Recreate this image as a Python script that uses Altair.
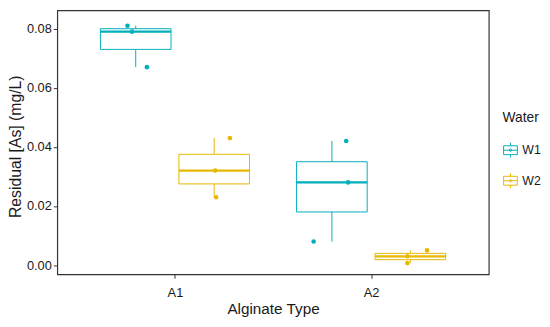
import json
import altair as alt
import pandas as pd

# ---- data ----
categories = ["A1", "A2"]
waters = ["W1", "W2"]
colors = ["#00AFBB", "#E7B800"]

a1_w1 = [0.081, 0.079, 0.067]
a1_w2 = [0.043, 0.032, 0.023]
a2_w1 = [0.042, 0.028, 0.008]
a2_w2 = [0.005, 0.003, 0.0007]

# horizontal jitter of the points (in category units)
jit_a1_w1 = [-0.042, -0.019, 0.057]
jit_a1_w2 = [0.080, 0.005, 0.010]
jit_a2_w1 = [0.073, 0.083, -0.093]
jit_a2_w2 = [0.085, -0.015, -0.015]

groups = [
    ("A1", "W1", a1_w1, jit_a1_w1),
    ("A1", "W2", a1_w2, jit_a1_w2),
    ("A2", "W1", a2_w1, jit_a2_w1),
    ("A2", "W2", a2_w2, jit_a2_w2),
]
rows = []
for alg, w, vals, jits in groups:
    for v, j in zip(vals, jits):
        rows.append({"Alginate": alg, "Water": w, "value": v, "jitter": j})
df = pd.DataFrame(rows)

FONT = "Liberation Sans"
cat_js = json.dumps(categories)
DODGE = 0.2
HALF = 0.18

xscale = alt.Scale(domain=[0.4, 2.6], nice=False, zero=False)
yscale = alt.Scale(domain=[-0.0031, 0.08623], nice=False, zero=False)

xaxis = alt.Axis(
    title="Alginate Type", values=[1, 2],
    labelExpr=f"{cat_js}[datum.value - 1]",
    grid=False, domain=False, tickSize=4, tickColor="#333333",
    labelFontSize=13, labelColor="#1a1a1a", labelPadding=8,
    titleFontSize=15.5, titleColor="#1a1a1a", titleFontWeight="normal",
    titlePadding=3, labelFont=FONT, titleFont=FONT,
)
yaxis = alt.Axis(
    title="Residual [As] (mg/L)", values=[0, 0.02, 0.04, 0.06, 0.08],
    format=".2f", grid=False, domain=False, tickSize=4, tickColor="#333333",
    labelFontSize=13, labelColor="#1a1a1a", labelPadding=2,
    titleFontSize=16, titleColor="#1a1a1a", titleFontWeight="normal",
    titleX=-42, titleY=138, titleBaseline="middle", titleAngle=270,
    labelFont=FONT, titleFont=FONT,
)

legend_path = ("M-0.93,-0.6H0.93V0.6H-0.93Z M-0.93,0H0.93 M0,-1V-0.6 M0,0.6V1 "
               "M0.16,0A0.16,0.16 0 1,1 -0.16,0A0.16,0.16 0 1,1 0.16,0")

stroke_enc = alt.Stroke(
    "Water:N", scale=alt.Scale(domain=waters, range=colors),
    legend=alt.Legend(
        title="Water", orient="none", legendX=452, legendY=102,
        symbolType=legend_path, symbolSize=225, symbolStrokeWidth=1,
        symbolFillColor="transparent", rowPadding=11, titlePadding=18,
        titleFontSize=14, titleFontWeight="normal", titleColor="#1a1a1a",
        labelFontSize=12.5, labelColor="#1a1a1a", labelOffset=4,
        titleFont=FONT, labelFont=FONT, padding=0,
    ),
)

base = alt.Chart(df).transform_calculate(
    idx=f"indexof({cat_js}, datum.Alginate) + 1",
).transform_calculate(
    pos=f"datum.idx + (datum.Water == '{waters[0]}' ? -{DODGE} : {DODGE})",
)

stats = base.transform_aggregate(
    vmin="min(value)", vmax="max(value)", q1="q1(value)",
    med="median(value)", q3="q3(value)",
    groupby=["Alginate", "Water", "pos"],
).transform_calculate(
    left=f"datum.pos - {HALF}", right=f"datum.pos + {HALF}",
)

whisker = stats.mark_rule(strokeWidth=1).encode(
    x=alt.X("pos:Q", scale=xscale, axis=xaxis),
    y=alt.Y("vmin:Q", scale=yscale, axis=yaxis),
    y2="vmax:Q",
    stroke=stroke_enc,
)

box = stats.mark_bar(fill="white", strokeWidth=1).encode(
    x=alt.X("left:Q", scale=xscale),
    x2="right:Q",
    y=alt.Y("q1:Q", scale=yscale),
    y2="q3:Q",
    stroke=stroke_enc,
)

median = stats.mark_rule(strokeWidth=2.3).encode(
    x=alt.X("left:Q", scale=xscale),
    x2="right:Q",
    y=alt.Y("med:Q", scale=yscale),
    stroke=stroke_enc,
)

# one dot layer per water type (constant colour, kept out of the legend)
dot_layers = []
for w, c in zip(waters, colors):
    dot_layers.append(
        base.transform_filter(alt.datum.Water == w)
        .transform_calculate(px="datum.pos + datum.jitter")
        .mark_circle(size=22, opacity=1, color=c)
        .encode(
            x=alt.X("px:Q", scale=xscale),
            y=alt.Y("value:Q", scale=yscale),
        )
    )

chart = alt.layer(whisker, box, median, *dot_layers).properties(
    width=438, height=268,
    padding={"left": 50, "top": 0, "right": 54, "bottom": 43},
    autosize="none", background="white",
).configure_view(
    stroke="#333333", strokeWidth=1.2,
)

chart.save("out.html", embed_options={"renderer": "svg", "actions": False})
